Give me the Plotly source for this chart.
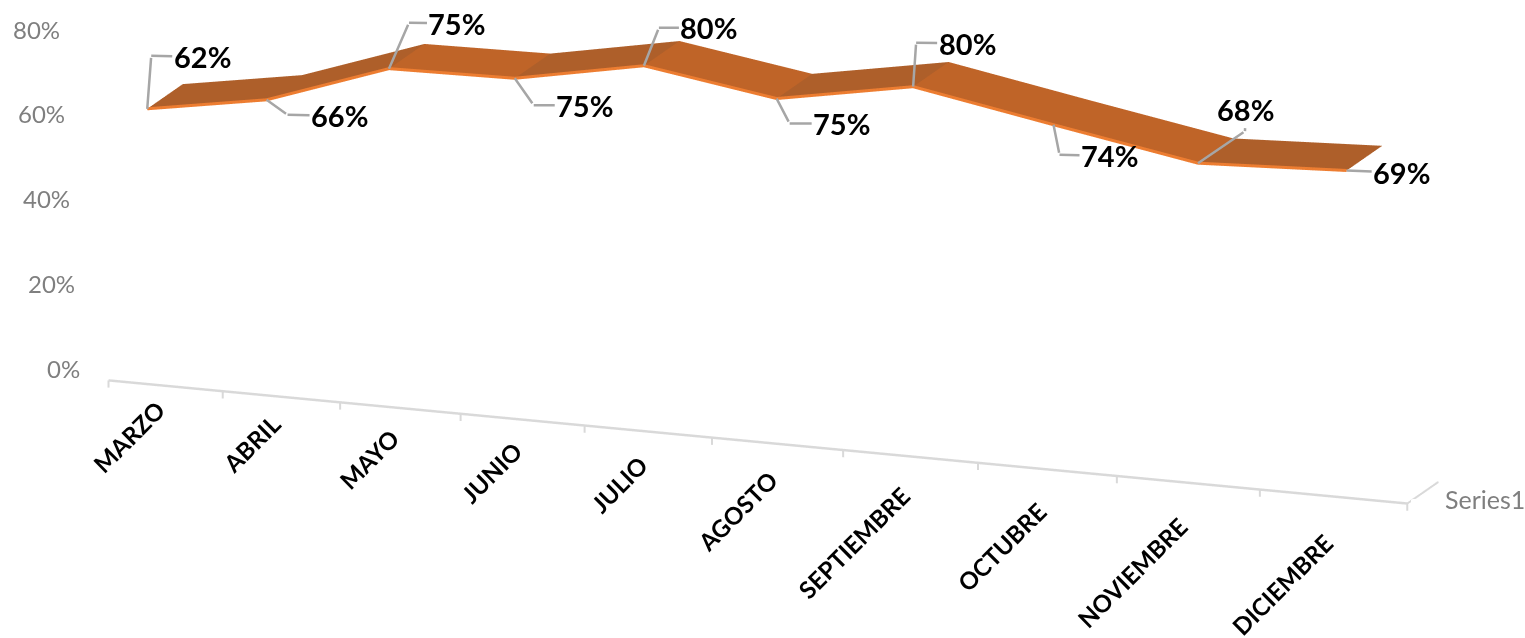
import plotly.graph_objects as go

months = ["MARZO", "ABRIL", "MAYO", "JUNIO", "JULIO", "AGOSTO", "SEPTIEMBRE", "OCTUBRE", "NOVIEMBRE", "DICIEMBRE"]
values = [62, 66, 75, 75, 80, 75, 80, 74, 68, 69]
axis_ticks = [0, 20, 40, 60, 80]
series_name = "Series1"

K = 0.0132
def pos(i):
    return i / (1 - K * i)
XMAX = pos(10)
# the original is a true perspective view; the orthographic scene approximates it by drifting the ribbon in depth
x_pts = [pos(i + 0.5) - 0.117 + 0.00565 * i for i in range(10)]
y_front = [-0.11 + 0.065 * i for i in range(10)]
RIBBON_DEPTH = 0.8
Y_EDGE = 0.7

# ribbon
vx = []; vy = []; vz = []
for x, yf, v in zip(x_pts, y_front, values):
    vx += [x, x]; vy += [yf, yf + RIBBON_DEPTH]; vz += [v, v]
ii = []; jj = []; kk = []; fc = []
for s in range(9):
    a = 2 * s
    col = "#AE5F2A" if values[s + 1] > values[s] else "#BF6428"
    ii += [a, a + 1]; jj += [a + 1, a + 3]; kk += [a + 2, a + 2]; fc += [col, col]

fig = go.Figure()
fig.add_trace(go.Mesh3d(x=vx, y=vy, z=vz, i=ii, j=jj, k=kk, facecolor=fc, flatshading=True,
                        lighting=dict(ambient=1, diffuse=0, specular=0, fresnel=0), hoverinfo="skip"))
fig.add_trace(go.Scatter3d(x=x_pts, y=y_front, z=values, mode="lines",
                           line=dict(color="#ED7D31", width=6), hoverinfo="skip"))
# baseline, ticks and depth edge
fig.add_trace(go.Scatter3d(x=[0, XMAX], y=[0, 0], z=[0, 0], mode="lines",
                           line=dict(color="#D9D9D9", width=5), hoverinfo="skip"))
tx = []; ty = []; tz = []
for i in range(11):
    tx += [pos(i), pos(i), None]; ty += [0, 0, None]; tz += [0, -1.6, None]
tx += [XMAX, XMAX, XMAX + 0.18]; ty += [0, Y_EDGE, Y_EDGE]; tz += [0, 0, 0]
fig.add_trace(go.Scatter3d(x=tx, y=ty, z=tz, mode="lines", line=dict(color="#D9D9D9", width=4), hoverinfo="skip"))

GREY = "#7F7F7F"
ann = []
for t in axis_ticks:
    ann.append(dict(x=0, y=0, z=t, text=f"{t}%", showarrow=False, xanchor="right", yanchor="middle",
                    xshift=-27 - 0.25 * t, yshift=12 - 0.26 * t, font=dict(family="Lato", size=24, color=GREY)))
for i, m in enumerate(months):
    ann.append(dict(x=pos(i + 0.5), y=0, z=0, text=f"<b>{m}</b>", showarrow=False, textangle=-45,
                    xanchor="right", yanchor="top", xshift=8, yshift=-7 - 2.4 * i,
                    font=dict(family="Lato", size=24, color="black")))
ann.append(dict(x=XMAX, y=Y_EDGE, z=0, text=series_name, showarrow=False, xanchor="left", yanchor="middle",
                xshift=5, yshift=-17, font=dict(family="Lato", size=25, color=GREY)))
# data labels with elbow leaders: (elbow dx, dy), (label dx, dy from elbow)
leaders = [((4, -53), (51, 1)), ((21, 15), (52, 1)), ((20, -46), (48, 1)), ((19, 27), (51, 0)), ((15, -38), (50, 0)),
           ((13, 25), (52, 0)), ((3, -44), (51, 1)), ((6, 30), (50, 1)), ((47, -32), (1, -22)), ((0, 0), (55, 2))]
for x, yf, v, (e, l) in zip(x_pts, y_front, values, leaders):
    ann.append(dict(x=x, y=yf, z=v, text=" ", showarrow=True, arrowhead=0, arrowwidth=2.5, arrowcolor="#A6A6A6",
                    ax=e[0], ay=e[1], standoff=0, font=dict(size=1)))
    ann.append(dict(x=x, y=yf, z=v, text=f"<b>{v}%</b>", showarrow=True, arrowhead=0, arrowwidth=2.5,
                    arrowcolor="#A6A6A6", ax=l[0], ay=l[1], xshift=e[0], yshift=-e[1], standoff=0,
                    font=dict(family="Lato", size=29, color="black")))

hidden = dict(visible=False, showgrid=False, zeroline=False, showspikes=False, showbackground=False)
fig.update_layout(
    width=1525, height=638, margin=dict(l=0, r=0, t=0, b=0), paper_bgcolor="white", showlegend=False,
    scene=dict(
        domain=dict(x=[0, 1], y=[0, 1]),
        xaxis=dict(range=[0, XMAX], **hidden),
        yaxis=dict(range=[-0.12, 1.4], **hidden),
        zaxis=dict(range=[-3, 90], **hidden),
        aspectmode="manual", aspectratio=dict(x=4.34, y=0.6107, z=1.358),
        camera=dict(eye=dict(x=0.507, y=-1.5884, z=0.142), center=dict(x=-0.05, y=-0.0804, z=-0.285), up=dict(x=0, y=0, z=1),
                    projection=dict(type="orthographic")),
        annotations=ann,
    ),
)
fig.write_html("out.html", post_script="document.body.style.margin='0';", config=dict(displayModeBar=False))
